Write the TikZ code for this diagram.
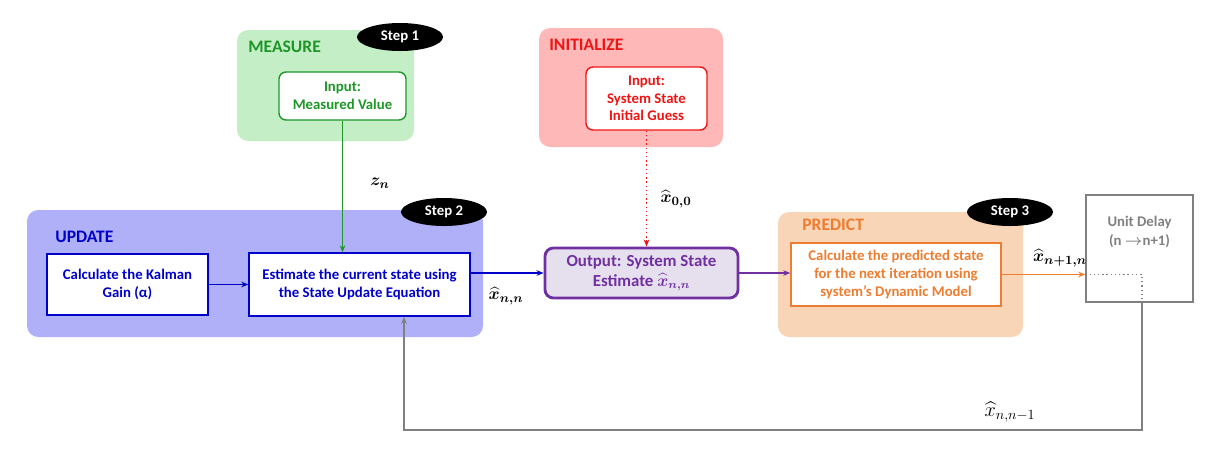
\documentclass[tikz,border=0pt]{standalone}
\usepackage{amsmath,bm}
\usepackage{fontspec}
\setmainfont{Carlito}
\usetikzlibrary{arrows.meta,shapes.geometric}
\definecolor{measgreen}{RGB}{30,150,40}
\definecolor{measfill}{RGB}{196,238,198}
\definecolor{initred}{RGB}{240,20,20}
\definecolor{initfill}{RGB}{255,184,184}
\definecolor{updblue}{RGB}{0,0,200}
\definecolor{updfill}{RGB}{176,176,248}
\definecolor{predorange}{RGB}{237,125,49}
\definecolor{predfill}{RGB}{248,213,182}
\definecolor{outpurple}{RGB}{112,48,160}
\definecolor{outfill}{RGB}{230,224,238}
\definecolor{delaygray}{RGB}{128,128,128}
\begin{document}
\begin{tikzpicture}[x=0.025cm,y=-0.025cm,
  font=\bfseries\fontsize{10.5}{12.5}\selectfont,
  panel/.style={rounded corners=8pt},
  paneltitle/.style={anchor=west,inner sep=0pt,font=\bfseries\fontsize{12.5}{14}\selectfont},
  stepoval/.style={ellipse,fill=black,text=white,inner sep=0pt,minimum width=2.15cm,minimum height=0.7cm,font=\bfseries\fontsize{10.5}{12}\selectfont},
  inbox/.style={draw,fill=white,rounded corners=5pt,line width=1pt,align=center},
  stepbox/.style={draw,fill=white,line width=1pt,align=center},
  flow/.style={line width=1pt,-{Stealth[length=5pt,width=4pt]}},
  sig/.style={inner sep=0pt,font=\fontsize{13}{15}\selectfont}]
\useasboundingbox (0,0) rectangle (1210,449);

% panels
\fill[panel,measfill] (237,30) rectangle (414,141);
\fill[panel,initfill] (539,28) rectangle (723,147);
\fill[panel,updfill] (27,210) rectangle (483,337);
\fill[panel,predfill] (778,212) rectangle (1023,337);
\node[paneltitle,text=measgreen] (tmeas) at (248,47) {MEASURE};
\node[paneltitle,text=initred] (tinit) at (549,45) {INITIALIZE};
\node[paneltitle,text=updblue] (tupd) at (55,237) {UPDATE};
\node[paneltitle,text=predorange] (tpred) at (802,225) {PREDICT};
\node[stepoval] (step1) at (400,37) {Step 1};
\node[stepoval] (step2) at (444,212) {Step 2};
\node[stepoval] (step3) at (1010,212) {Step 3};

% boxes
\node[inbox,draw=measgreen,text=measgreen,minimum width=3.175cm,minimum height=1.2cm] (meas) at (342.5,96) {Input:\\Measured Value};
\node[inbox,draw=initred,text=initred,minimum width=3.025cm,minimum height=1.575cm] (init) at (646.5,98.5) {Input:\\System State\\Initial Guess};
\node[stepbox,draw=updblue,text=updblue,minimum width=4.025cm,minimum height=1.525cm] (gain) at (127.5,284.5) {Calculate the Kalman\\Gain (α)};
\node[stepbox,draw=updblue,text=updblue,minimum width=5.525cm,minimum height=1.575cm] (est) at (359.5,284.5) {Estimate the current state using\\the State Update Equation};
\node[inbox,draw=outpurple,fill=outfill,text=outpurple,line width=2pt,rounded corners=6pt,minimum width=4.825cm,minimum height=1.25cm,font=\bfseries\fontsize{12}{14}\selectfont] (out) at (641.5,273) {Output: System State\\Estimate $\bm{\widehat{x}}_{\bm{n,n}}$};
\node[stepbox,draw=predorange,text=predorange,minimum width=5.25cm,minimum height=1.575cm] (pred) at (896,274.5) {Calculate the predicted state\\for the next iteration using\\system's Dynamic Model};
\node[draw=delaygray,line width=1pt,minimum width=2.675cm,minimum height=2.675cm] (delay) at (1139.5,248.5) {};
\node[text=delaygray,align=center,font=\bfseries\fontsize{10.5}{13}\selectfont] (delaytxt) at (1139.5,232) {Unit Delay\\(n $\bm{\rightarrow}$n+1)};

% connectors
\draw[flow,measgreen] (meas.south) -- (meas.south |- est.north);
\draw[flow,initred,dotted,line width=1.2pt] (init.south) -- (init.south |- out.north);
\draw[flow,updblue] (gain.east) -- (est.west);
\draw[flow,updblue] (est.east |- out.west) -- (out.west);
\draw[flow,outpurple] (out.east) -- (out.east -| pred.west);
\draw[flow,predorange] (pred.east) -- (pred.east -| delay.west);
\coordinate (tap) at (1142,274.5);
\coordinate (fb) at (1142,430);
\draw[delaygray,dotted,line width=1pt] (pred.east -| delay.west) -- (tap) -- (tap |- delay.south);
\draw[flow,delaygray] (tap |- delay.south) -- (fb) -| ([xshift=1.1125cm]est.south);

% signal labels
\node[sig] (zn) at (380,183) {$\bm{z_n}$};
\node[sig] (x00) at (676,199) {$\bm{\widehat{x}_{0,0}}$};
\node[sig] (xnn) at (506,296) {$\bm{\widehat{x}_{n,n}}$};
\node[sig] (xn1n) at (1060,258) {$\bm{\widehat{x}_{n+1,n}}$};
\node[sig,font=\fontsize{14}{16}\selectfont] (xnn1) at (1010,412) {$\widehat{x}_{n,n-1}$};
\end{tikzpicture}
\end{document}
